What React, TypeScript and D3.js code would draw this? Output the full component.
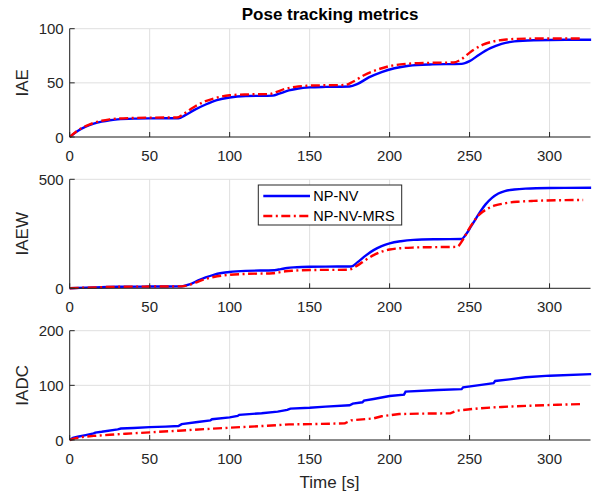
import React from "react";
import * as d3 from "d3";

// time axis ticks
const timeTicks = [0, 50, 100, 150, 200, 250, 300];

// IAE panel
const iaeBlueT = [0, 5, 10, 15, 20, 25, 30, 40, 50, 68, 72, 78, 85, 92, 100, 110, 127, 131, 137, 143, 150, 160, 175, 180, 187, 195, 203, 212, 225, 245, 250, 256, 263, 270, 278, 290, 310, 326];
const iaeBlue = [0, 5.5, 9.5, 12.3, 14.2, 15.5, 16.3, 17, 17.2, 17.3, 20, 25, 30, 34, 36.5, 37.8, 38.2, 40, 43, 44.8, 45.8, 46.3, 46.6, 49, 55, 60, 63.5, 65.8, 67, 67.5, 70, 76, 82, 86, 88.3, 89.4, 89.8, 89.8];
const iaeRedT = [0, 5, 10, 15, 20, 25, 30, 40, 50, 67, 71, 77, 84, 91, 100, 110, 125, 129, 135, 141, 148, 160, 172, 177, 184, 192, 200, 210, 225, 240, 245, 251, 258, 265, 273, 285, 305, 321];
const iaeRed = [0, 6, 10, 13, 15, 16.3, 17, 17.6, 17.9, 18, 21, 27, 32.5, 36, 38.5, 39.3, 39.6, 41.5, 44.5, 46.3, 47.3, 47.8, 48, 51, 57, 62, 65.5, 67.5, 68.5, 68.8, 72, 79, 85, 88.3, 90, 90.8, 91, 91];
const iaeTicks = [0, 50, 100];

// IAEW panel
const iaewBlueT = [0, 10, 20, 30, 50, 70, 75, 80, 85, 90, 95, 100, 110, 128, 132, 136, 140, 145, 150, 160, 176, 180, 185, 190, 195, 200, 207, 215, 230, 245, 248, 251, 254, 257, 260, 264, 268, 272, 278, 285, 300, 326];
const iaewBlue = [0, 3, 5, 7, 8, 9, 18, 35, 50, 62, 70, 75, 80, 83, 88, 93, 96, 98, 99, 99.5, 100, 120, 150, 175, 193, 206, 216, 222, 225, 226, 250, 285, 320, 355, 385, 415, 435, 446, 453, 457, 460, 461];
const iaewRedT = [0, 10, 20, 30, 50, 70, 75, 80, 85, 90, 95, 100, 110, 127, 131, 135, 140, 145, 150, 160, 174, 180, 185, 190, 195, 200, 207, 215, 230, 242, 246, 249, 252, 255, 258, 262, 266, 272, 280, 290, 305, 321];
const iaewRed = [0, 3, 5, 7, 8, 9, 16, 30, 43, 52, 58, 62, 66, 69, 73, 78, 81, 83, 84, 84.5, 85, 105, 130, 152, 168, 178, 184, 187, 189, 190, 225, 265, 300, 330, 350, 368, 380, 390, 397, 401, 404, 405];
const iaewTicks = [0, 500];

// IADC panel
const iadcBlueT = [0, 2, 5, 10, 15, 16, 20, 30, 32, 40, 50, 60, 68, 70, 80, 88, 89, 100, 105, 106, 120, 130, 136, 138, 150, 160, 175, 177, 183, 184, 190, 200, 209, 210, 230, 245, 246, 255, 265, 266, 275, 285, 300, 326];
const iadcBlue = [0, 4, 6, 9, 12, 13.5, 15, 19.5, 21, 22, 23.5, 24.5, 25.5, 29, 33, 36, 38, 41.5, 44, 46, 49, 52, 55, 57.5, 59, 61, 63.5, 66.5, 69, 72, 75, 80.5, 83, 88.5, 91.5, 93, 96.5, 100, 104, 108, 111, 114.7, 117.7, 120.5];
const iadcRedT = [0, 3, 8, 15, 25, 35, 50, 68, 85, 100, 120, 137, 150, 172, 176, 190, 195, 206, 220, 238, 242, 256, 270, 288, 305, 321];
const iadcRed = [0, 3, 5.5, 7.5, 9.5, 11.5, 14, 17, 20, 22.5, 25.5, 28.5, 29, 30.5, 36, 39.5, 43.5, 47.5, 48.3, 48.8, 53.6, 58, 60.5, 62.8, 64.5, 65.8];
const iadcTicks = [0, 100, 200];

const seriesNames = ["NP-NV", "NP-NV-MRS"];

const W = 592;
const H = 495;
const left = 69.7;
const right = 590.5;
const font = "'Liberation Sans', Arial, Helvetica, sans-serif";
const axisColor = "#262626";
const gridColor = "#dfdfdf";
const blue = "#0000ff";
const red = "#ff0000";
const dash = "9,3.5,2,3.5";
const lw = 2.4;

const x = d3.scaleLinear().domain([0, 325.6]).range([left, right]);

const panels = [
  { label: "IAE", top: 28.7, bottom: 137, max: 100, ticks: iaeTicks, bt: iaeBlueT, bv: iaeBlue, rt: iaeRedT, rv: iaeRed, smooth: true },
  { label: "IAEW", top: 179.3, bottom: 288.3, max: 500, ticks: iaewTicks, bt: iaewBlueT, bv: iaewBlue, rt: iaewRedT, rv: iaewRed, smooth: true },
  { label: "IADC", top: 330.7, bottom: 440, max: 200, ticks: iadcTicks, bt: iadcBlueT, bv: iadcBlue, rt: iadcRedT, rv: iadcRed, smooth: false },
];

function Panel({ p }: { p: any }) {
  const y = d3.scaleLinear().domain([0, p.max]).range([p.bottom, p.top]);
  const line = d3
    .line<[number, number]>()
    .x((d) => x(d[0]))
    .y((d) => y(d[1]))
    .curve(p.smooth ? d3.curveMonotoneX : d3.curveLinear);
  const blueData = p.bt.map((t: number, i: number) => [t, p.bv[i]] as [number, number]);
  const redData = p.rt.map((t: number, i: number) => [t, p.rv[i]] as [number, number]);
  return (
    <g>
      {/* grid */}
      {timeTicks.map((t) => (
        <line key={"gx" + t} x1={x(t)} x2={x(t)} y1={p.top} y2={p.bottom} stroke={gridColor} strokeWidth={1} />
      ))}
      {p.ticks.map((v: number) => (
        <line key={"gy" + v} x1={left} x2={right} y1={y(v)} y2={y(v)} stroke={gridColor} strokeWidth={1} />
      ))}
      {/* series */}
      <path d={line(blueData) || ""} fill="none" stroke={blue} strokeWidth={lw} />
      <path d={line(redData) || ""} fill="none" stroke={red} strokeWidth={lw} strokeDasharray={dash} />
      {/* axes */}
      <line x1={left} x2={right} y1={p.bottom} y2={p.bottom} stroke={axisColor} strokeWidth={1} />
      <line x1={left} x2={left} y1={p.top} y2={p.bottom} stroke={axisColor} strokeWidth={1} />
      {timeTicks.map((t) => (
        <g key={"tx" + t}>
          <line x1={x(t)} x2={x(t)} y1={p.bottom} y2={p.bottom - 5} stroke={axisColor} />
          <text x={x(t)} y={p.bottom + 23.5} textAnchor="middle" fontSize={15} fill={axisColor}>
            {t}
          </text>
        </g>
      ))}
      {p.ticks.map((v: number) => (
        <g key={"ty" + v}>
          <line x1={left} x2={left + 5} y1={y(v)} y2={y(v)} stroke={axisColor} />
          <text x={left - 6} y={y(v) + 5.5} textAnchor="end" fontSize={15} fill={axisColor}>
            {v}
          </text>
        </g>
      ))}
      <text
        transform={`translate(${28}, ${(p.top + p.bottom) / 2}) rotate(-90)`}
        textAnchor="middle"
        fontSize={17}
        fill={axisColor}
      >
        {p.label}
      </text>
    </g>
  );
}

export default function App() {
  return (
    <svg
      width={W}
      height={H}
      style={{ position: "absolute", left: 0, top: 0, background: "#fff" }}
      fontFamily={font}
    >
      <rect width={W} height={H} fill="#fff" />
      {panels.map((p) => (
        <Panel key={p.label} p={p} />
      ))}
      <text x={(left + right) / 2} y={20} textAnchor="middle" fontSize={17} fontWeight="bold" fill="#000">
        Pose tracking metrics
      </text>
      {/* legend */}
      <g>
        <rect x={258.3} y={185} width={143.4} height={40} fill="#fff" stroke={axisColor} strokeWidth={1} />
        <line x1={263.3} x2={310} y1={196} y2={196} stroke={blue} strokeWidth={lw} />
        <text x={313.3} y={201} fontSize={14.5} fill="#000">{seriesNames[0]}</text>
        <line x1={263.3} x2={310} y1={216} y2={216} stroke={red} strokeWidth={lw} strokeDasharray={dash} />
        <text x={313.3} y={221} fontSize={14.5} fill="#000">{seriesNames[1]}</text>
      </g>
      <text x={329.5} y={488} textAnchor="middle" fontSize={17} fill={axisColor}>
        Time [s]
      </text>
    </svg>
  );
}
